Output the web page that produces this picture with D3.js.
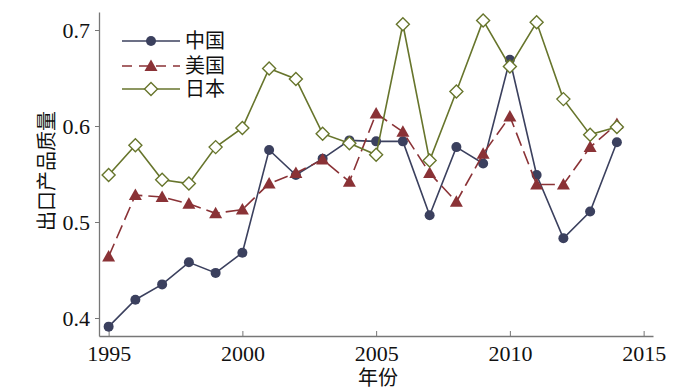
<!DOCTYPE html>
<html>
<head>
<meta charset="utf-8">
<script src="https://cdn.jsdelivr.net/npm/d3@7"></script>
<style>
  body { margin: 0; background: #fff; }
  svg text { font-family: "Liberation Serif", "Noto Sans CJK SC", serif; fill: #111; }
</style>
</head>
<body>
<div id="chart"></div>
<script>
var years = [1995, 1996, 1997, 1998, 1999, 2000, 2001, 2002, 2003, 2004,
             2005, 2006, 2007, 2008, 2009, 2010, 2011, 2012, 2013, 2014];
var china = [0.391, 0.419, 0.435, 0.458, 0.447, 0.468, 0.575, 0.549, 0.566, 0.585,
             0.584, 0.584, 0.507, 0.578, 0.561, 0.669, 0.549, 0.483, 0.511, 0.583];
var usa   = [0.464, 0.528, 0.526, 0.519, 0.509, 0.513, 0.540, 0.551, 0.565, 0.542,
             0.613, 0.594, 0.551, 0.521, 0.571, 0.610, 0.539, 0.539, 0.578, 0.602];
var japan = [0.549, 0.580, 0.544, 0.540, 0.578, 0.598, 0.660, 0.649, 0.592, 0.582,
             0.570, 0.706, 0.564, 0.636, 0.710, 0.662, 0.708, 0.628, 0.591, 0.599];
var seriesNames = ["中国", "美国", "日本"];
var xTicks = [1995, 2000, 2005, 2010, 2015];
var yTicks = [0.4, 0.5, 0.6, 0.7];

var width = 700, height = 388;
var margin = {top: 12, right: 47, bottom: 52, left: 99};
var serif = "'Liberation Serif', 'Noto Sans CJK SC', serif";

var svg = d3.select("#chart").append("svg")
    .attr("width", width)
    .attr("height", height);

var x = d3.scaleLinear().domain([1994.64, 2015.35])
    .range([margin.left, width - margin.right]);
var y = d3.scaleLinear().domain([0.38125, 0.71875])
    .range([height - margin.bottom, margin.top]);

var axisColor = "#777";

// x axis (ticks point inward)
var gx = svg.append("g")
    .attr("transform", "translate(0," + (height - margin.bottom) + ")")
    .call(d3.axisBottom(x).tickValues(xTicks).tickFormat(d3.format("d"))
          .tickSize(-5).tickSizeOuter(0).tickPadding(9))
    .attr("font-family", serif);
gx.select(".domain").attr("stroke", axisColor).attr("stroke-width", 1.3);
gx.selectAll(".tick line").attr("stroke", axisColor);
gx.selectAll("text").style("font-size", "22px").style("font-family", serif);

// y axis
var gy = svg.append("g")
    .attr("transform", "translate(" + margin.left + ",0)")
    .call(d3.axisLeft(y).tickValues(yTicks).tickFormat(d3.format(".1f"))
          .tickSize(4).tickSizeOuter(0).tickPadding(5))
    .attr("font-family", serif);
gy.select(".domain").attr("stroke", axisColor).attr("stroke-width", 1.3);
gy.selectAll(".tick line").attr("stroke", axisColor);
gy.selectAll("text").style("font-size", "22px").style("font-family", serif);

// axis titles
svg.append("text")
    .attr("x", 378).attr("y", 385)
    .attr("text-anchor", "middle")
    .style("font-size", "20px")
    .text("年份");
svg.append("text")
    .attr("transform", "translate(54,171) rotate(-90)")
    .attr("text-anchor", "middle")
    .style("font-size", "20px")
    .text("出口产品质量");

var series = [
  {name: seriesNames[0], values: china, color: "#3b405e", dash: null, marker: "circle"},
  {name: seriesNames[1], values: usa, color: "#8a3236", dash: "14,6", marker: "triangle"},
  {name: seriesNames[2], values: japan, color: "#67752c", dash: null, marker: "diamond"}
];

var line = d3.line()
    .x(function(d) { return x(d.year); })
    .y(function(d) { return y(d.value); });

function drawMarker(g, kind, color) {
  if (kind === "circle") {
    g.append("circle").attr("r", 5).attr("fill", color);
  } else if (kind === "triangle") {
    g.append("path").attr("d", "M0,-6.5L6.5,5L-6.5,5Z").attr("fill", color);
  } else {
    g.append("path").attr("d", "M0,-6.5L6.5,0L0,6.5L-6.5,0Z")
      .attr("fill", "#fff").attr("stroke", color).attr("stroke-width", 1.4);
  }
}

series.forEach(function(s) {
  var pts = years.map(function(yr, i) { return {year: yr, value: s.values[i]}; });
  svg.append("path")
    .datum(pts)
    .attr("fill", "none")
    .attr("stroke", s.color)
    .attr("stroke-width", 1.6)
    .attr("stroke-dasharray", s.dash)
    .attr("d", line);
  pts.forEach(function(p) {
    var g = svg.append("g")
      .attr("transform", "translate(" + x(p.year) + "," + y(p.value) + ")");
    drawMarker(g, s.marker, s.color);
  });
});

// legend
var legendY = [41, 66, 89];
series.forEach(function(s, i) {
  var g = svg.append("g").attr("transform", "translate(122," + legendY[i] + ")");
  g.append("line")
    .attr("x1", 0).attr("x2", 58)
    .attr("stroke", s.color).attr("stroke-width", 1.6)
    .attr("stroke-dasharray", s.dash ? "10,7" : null);
  var m = g.append("g").attr("transform", "translate(29,0)");
  drawMarker(m, s.marker, s.color);
  g.append("text")
    .attr("x", 63).attr("y", 7)
    .style("font-size", "20px")
    .text(s.name);
});
</script>
</body>
</html>
